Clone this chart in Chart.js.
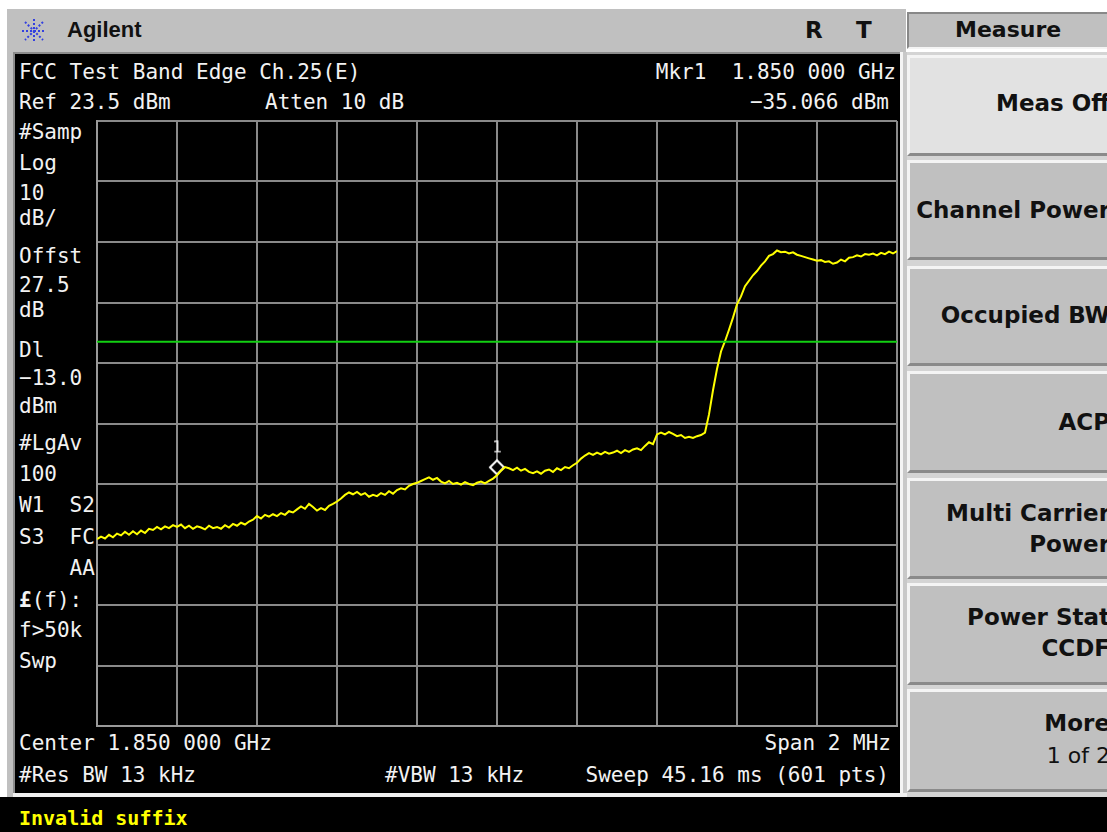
<!DOCTYPE html>
<html><head><meta charset="utf-8">
<script src="https://cdn.jsdelivr.net/npm/chart.js@4.4.1/dist/chart.umd.min.js"></script>
<style>
html,body{margin:0;padding:0;background:#fff;width:1107px;height:832px;overflow:hidden;position:relative}
.a{position:absolute;white-space:pre}
.m{font-family:'DejaVu Sans Mono',monospace;font-size:21px;line-height:21px;color:#f2f2f2}
.k{font-family:'DejaVu Sans',sans-serif;font-weight:bold;font-size:23px;line-height:23px;color:#111;text-align:right}
.key{position:absolute;left:907px;width:210px;background:#c0c0c0;border-top:3px solid #f4f4f4;border-left:3px solid #f4f4f4;border-bottom:3px solid #8a8a8a;box-sizing:border-box}
</style></head><body>
<div class="a" style="left:7px;top:9px;width:899px;height:44px;background:#c0c0c0"></div>
<svg class="a" style="left:20px;top:17px" width="28" height="28" viewBox="0 0 28 28">
 <g stroke="#3340e0" stroke-width="2" stroke-dasharray="2 2">
  <line x1="14" y1="2" x2="14" y2="26"/><line x1="2" y1="14" x2="26" y2="14"/>
  <line x1="5" y1="5" x2="23" y2="23"/><line x1="23" y1="5" x2="5" y2="23"/>
 </g></svg>
<div class="a" style="left:67px;top:17px;font:bold 22px 'Liberation Sans',sans-serif;color:#111">Agilent</div>
<div class="a k" style="left:805px;top:19px">R</div>
<div class="a k" style="left:856px;top:19px">T</div>

<div class="a" style="left:7px;top:53px;width:6px;height:744px;background:#c0c0c0"></div>
<div class="a" style="left:13px;top:52px;width:887px;height:741px;background:#000;border-top:2px solid #8c8c8c;border-left:2px solid #8c8c8c;box-sizing:border-box"></div>
<div class="a" style="left:900px;top:52px;width:3px;height:745px;background:#f4f4f4"></div>
<div class="a" style="left:903px;top:52px;width:4px;height:745px;background:#c8c8c8"></div>
<div class="a" style="left:13px;top:793px;width:894px;height:4px;background:#f0f0f0"></div>
<div class="a" style="left:0px;top:797px;width:1107px;height:35px;background:#000"></div>
<div class="a" style="left:907px;top:52px;width:200px;height:745px;background:#d4d4d4"></div>

<div class="a" style="left:907px;top:12px;width:200px;height:37px;background:#c0c0c0;border-top:2px solid #888;border-left:2px solid #888;border-bottom:2px solid #f4f4f4;box-sizing:border-box"></div>
<div class="a k" style="left:955px;top:19px;font-size:22px;line-height:22px">Measure</div>

<div class="key" style="top:55px;height:101px;background:#e2e2e2"></div>
<div class="key" style="top:160px;height:100px"></div>
<div class="key" style="top:266px;height:100px"></div>
<div class="key" style="top:371px;height:102px"></div>
<div class="key" style="top:478px;height:101px"></div>
<div class="key" style="top:583px;height:102px"></div>
<div class="key" style="top:689px;height:103px"></div>
<div class="a" style="left:907px;top:0;width:200px;height:832px;overflow:hidden">
 <div class="a k" style="right:-3px;top:92px">Meas Off</div>
 <div class="a k" style="right:-3px;top:199px">Channel Power</div>
 <div class="a k" style="right:-3px;top:304px">Occupied BW</div>
 <div class="a k" style="right:-3px;top:411px">ACP</div>
 <div class="a k" style="right:-3px;top:502px">Multi Carrier</div>
 <div class="a k" style="right:-3px;top:533px">Power</div>
 <div class="a k" style="right:-3px;top:606px">Power Stat</div>
 <div class="a k" style="right:-3px;top:637px">CCDF</div>
 <div class="a k" style="right:-3px;top:712px">More</div>
 <div class="a k" style="right:-3px;top:744px;font-weight:normal;font-size:22px">1 of 2</div>
</div>

<div class="a m" style="left:19px;top:62px">FCC Test Band Edge Ch.25(E)</div>
<div class="a m" style="right:211px;top:62px">Mkr1  1.850 000 GHz</div>
<div class="a m" style="left:19px;top:92px">Ref 23.5 dBm</div>
<div class="a m" style="left:265px;top:92px">Atten 10 dB</div>
<div class="a m" style="right:218px;top:92px">−35.066 dBm</div>

<div class="a m" style="left:19px;top:122px">#Samp</div>
<div class="a m" style="left:19px;top:153px">Log</div>
<div class="a m" style="left:19px;top:183px">10</div>
<div class="a m" style="left:19px;top:208px">dB/</div>
<div class="a m" style="left:19px;top:246px">Offst</div>
<div class="a m" style="left:19px;top:275px">27.5</div>
<div class="a m" style="left:19px;top:300px">dB</div>
<div class="a m" style="left:19px;top:340px">Dl</div>
<div class="a m" style="left:19px;top:368px">−13.0</div>
<div class="a m" style="left:19px;top:396px">dBm</div>
<div class="a m" style="left:19px;top:433px">#LgAv</div>
<div class="a m" style="left:19px;top:464px">100</div>
<div class="a m" style="left:19px;top:495px">W1  S2</div>
<div class="a m" style="left:19px;top:527px">S3  FC</div>
<div class="a m" style="left:19px;top:558px">    AA</div>
<div class="a m" style="left:19px;top:590px"><b>£</b>(f):</div>
<div class="a m" style="left:19px;top:620px">f&gt;50k</div>
<div class="a m" style="left:19px;top:651px">Swp</div>

<div class="a m" style="left:19px;top:733px">Center 1.850 000 GHz</div>
<div class="a m" style="right:216px;top:733px">Span 2 MHz</div>
<div class="a m" style="left:19px;top:765px">#Res BW 13 kHz</div>
<div class="a m" style="left:385px;top:765px">#VBW 13 kHz</div>
<div class="a m" style="right:218px;top:765px">Sweep 45.16 ms (601 pts)</div>
<div class="a" style="left:19px;top:808px;font:bold 20px/21px 'DejaVu Sans Mono',monospace;color:#ffff00">Invalid suffix</div>

<div class="a" style="left:95px;top:119px;width:804px;height:609px"><canvas id="c"></canvas></div>

<script>
// Sweep definition
const START_MHZ = 1849.0;
const STOP_MHZ = 1851.0;
// Trace levels (dBm), 201 samples across the span
const traceLevel = [
-45.6,-45.2,-45.5,-44.9,-45.3,-44.7,-45.0,-44.4,-44.9,-44.3,
-44.8,-44.2,-44.6,-43.9,-44.1,-43.6,-44.0,-43.5,-43.8,-43.3,
-43.6,-43.2,-43.8,-43.4,-43.9,-43.5,-43.7,-44.0,-43.4,-43.8,
-43.6,-43.9,-43.3,-43.7,-43.1,-43.4,-42.9,-43.2,-42.7,-42.4,
-41.8,-42.2,-41.6,-41.9,-41.5,-41.8,-41.3,-41.6,-41.0,-41.2,
-40.7,-40.2,-40.6,-39.8,-40.3,-40.9,-40.5,-40.8,-40.1,-39.8,
-39.4,-38.9,-38.3,-37.9,-38.2,-37.8,-38.3,-38.0,-38.6,-38.3,
-38.5,-38.0,-38.3,-37.7,-38.1,-37.5,-37.2,-37.4,-36.8,-36.5,
-36.3,-36.0,-35.7,-35.4,-35.8,-35.5,-36.1,-36.4,-36.0,-36.5,
-36.3,-36.6,-36.2,-36.5,-36.7,-36.3,-36.1,-36.4,-36.0,-35.6,
-35.07,
-34.3,-33.7,-33.9,-34.2,-33.8,-34.3,-34.0,-34.5,-34.7,
-34.4,-34.8,-34.3,-34.1,-34.5,-33.9,-34.2,-33.7,-33.9,-33.4,
-33.0,-32.3,-31.8,-31.4,-31.7,-31.3,-31.6,-31.2,-31.5,-31.3,
-31.0,-31.4,-30.9,-31.2,-30.8,-30.6,-30.9,-30.2,-29.6,-29.9,
-28.3,-28.0,-28.3,-27.9,-28.2,-28.6,-28.4,-28.9,-28.7,-28.9,
-28.6,-28.4,-28.0,-25.0,-21.0,-17.5,-14.6,-12.9,-11.0,-9.0,
-6.8,-5.5,-3.8,-2.9,-2.0,-1.3,-0.4,0.3,1.2,1.5,
2.1,1.8,1.9,1.6,1.8,1.4,1.2,1.0,0.8,0.6,
0.4,0.5,0.2,0.3,-0.1,0.1,0.6,0.3,0.9,1.0,
1.3,1.1,1.5,1.4,1.6,1.3,1.7,1.5,1.9,1.6,2.0
];
// Display line and marker
const displayLineDbm = -13.0;
const markerFreqMHz = [1850.0];
const markerLevelDbm = [-35.066];
// Graticule (tick) values
const freqGridMHz = [1849.0,1849.2,1849.4,1849.6,1849.8,1850.0,1850.2,1850.4,1850.6,1850.8,1851.0];
const levelGridDbm = [23.5,13.5,3.5,-6.5,-16.5,-26.5,-36.5,-46.5,-56.5,-66.5,-76.5];

const tracePts = traceLevel.map((v,i)=>({x: START_MHZ + i*(STOP_MHZ-START_MHZ)/(traceLevel.length-1), y: v}));

// marker glyph: diamond sitting on the trace point, with its number above
const mk = document.createElement('canvas');
mk.width = 24; mk.height = 80;
(function(){
  const g = mk.getContext('2d');
  g.strokeStyle = '#ffffff'; g.fillStyle = '#000'; g.lineWidth = 2;
  g.beginPath(); g.moveTo(12,25); g.lineTo(19,32); g.lineTo(12,39); g.lineTo(5,32); g.closePath();
  g.fill(); g.stroke();
  g.fillStyle = '#e8e8e8'; g.font = '16px "DejaVu Sans Mono"'; g.textAlign = 'center'; g.textBaseline = 'middle';
  g.fillText('1', 12, 13);
})();

new Chart(document.getElementById('c'), {
  type: 'line',
  data: {
    datasets: [
      {data: [{x:START_MHZ,y:displayLineDbm},{x:STOP_MHZ,y:displayLineDbm}], borderColor:'#12d012', borderWidth:2, pointRadius:0},
      {data: tracePts, borderColor:'#ffff00', borderWidth:2, pointRadius:0, tension:0},
      {data: markerFreqMHz.map((f,i)=>({x:f,y:markerLevelDbm[i]})), showLine:false, pointStyle: mk, pointRadius:10, clip:false}
    ]
  },
  options: {
    responsive:true, maintainAspectRatio:false, animation:false,
    layout:{padding:2, autoPadding:false},
    plugins:{legend:{display:false}, tooltip:{enabled:false}},
    scales:{
      x:{type:'linear', min:START_MHZ, max:STOP_MHZ,
         afterBuildTicks:s=>{s.ticks = freqGridMHz.map(v=>({value:v}));},
         ticks:{display:false}, grid:{color:'#8a8a8a', lineWidth:2, drawTicks:false},
         border:{color:'#9a9a9a', width:2}},
      y:{type:'linear', min:levelGridDbm[levelGridDbm.length-1], max:levelGridDbm[0],
         afterBuildTicks:s=>{s.ticks = levelGridDbm.map(v=>({value:v}));},
         ticks:{display:false}, grid:{color:'#8a8a8a', lineWidth:2, drawTicks:false},
         border:{color:'#9a9a9a', width:2}}
    }
  }
});
</script>
</body></html>
